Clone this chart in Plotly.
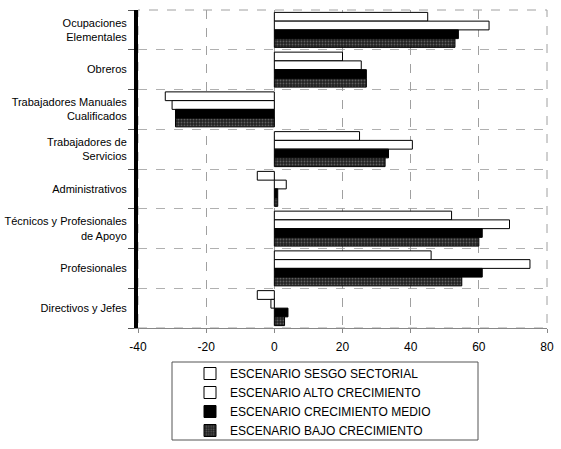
import plotly.graph_objects as go

categories = ["Ocupaciones<br>Elementales", "Obreros", "Trabajadores Manuales<br>Cualificados",
              "Trabajadores de<br>Servicios", "Administrativos", "Técnicos y Profesionales<br>de Apoyo",
              "Profesionales", "Directivos y Jefes"]
series_names = ["ESCENARIO SESGO SECTORIAL", "ESCENARIO ALTO CRECIMIENTO",
                "ESCENARIO CRECIMIENTO MEDIO", "ESCENARIO BAJO CRECIMIENTO"]
sesgo = [45, 20, -32, 25, -5, 52, 46, -5]
alto = [63, 25.5, -30, 40.5, 3.5, 69, 75, -1]
medio = [54, 27, -29, 33.5, 1, 61, 61, 4]
bajo = [53, 27, -29, 32.5, 1, 60, 55, 3]
x_ticks = [-40, -20, 0, 20, 40, 60, 80]
x_ticktext = ["-40", "-20", "0", "20", "40", "60", "80"]

values = [sesgo, alto, medio, bajo]
fills = ["white", "white", "black", "#2b2b2b"]
ypos = list(range(len(categories)))

H = 449
fig = go.Figure()
for i, (name, vals) in enumerate(zip(series_names, values)):
    marker = dict(color=fills[i], line=dict(color="black", width=1))
    if i == 3:
        marker["pattern"] = dict(shape=".", fgcolor="#999999", bgcolor="#222222", size=3, solidity=0.3)
    fig.add_trace(go.Bar(name=name, y=ypos, x=vals, orientation="h", marker=marker))

fig.update_layout(
    width=561, height=H,
    margin=dict(l=138, r=14, t=10, b=121),
    paper_bgcolor="white", plot_bgcolor="white",
    barmode="group", bargap=0.12, bargroupgap=0.0,
    font=dict(family="Liberation Sans, Arial", size=12, color="black"),
    showlegend=True,
    legend=dict(x=(190 - 138) / 409, xanchor="left", yref="container", y=1 - 359 / H, yanchor="top",
                bgcolor="rgba(0,0,0,0)", borderwidth=0, traceorder="normal",
                itemwidth=30, font=dict(size=12), tracegroupgap=0),
)
fig.update_xaxes(range=[-40, 80], tickvals=x_ticks, ticktext=x_ticktext, showgrid=True,
                 gridcolor="#a0a0a0", griddash="dash", gridwidth=1, zeroline=False, showline=True,
                 linecolor="#888", ticks="outside", ticklen=4, tickcolor="#888",
                 ticklabelstandoff=4, automargin=False)
fig.update_yaxes(tickvals=ypos, ticktext=categories, range=[7.5, -0.5], showgrid=False,
                 zeroline=False, showline=True, linecolor="black", linewidth=4, ticks="",
                 ticklabelstandoff=5, automargin=False, tickfont=dict(size=11),
                 minor=dict(tickvals=[v - 0.5 for v in range(len(categories) + 1)], showgrid=True,
                            gridcolor="#b0b0b0", griddash="dash", ticks="outside", ticklen=6,
                            tickcolor="#555"))
# frame top/right
fig.add_shape(type="rect", xref="paper", yref="paper", x0=0, x1=1, y0=0, y1=1,
              line=dict(color="#a0a0a0", width=1, dash="dash"), layer="below")
# legend box
fig.add_shape(type="rect", xref="paper", yref="paper",
              x0=(172 - 138) / 409, x1=(478 - 138) / 409,
              y0=(328 - 440) / 318, y1=(328 - 362) / 318,
              line=dict(color="#555", width=1))

fig.write_html("out.html")
